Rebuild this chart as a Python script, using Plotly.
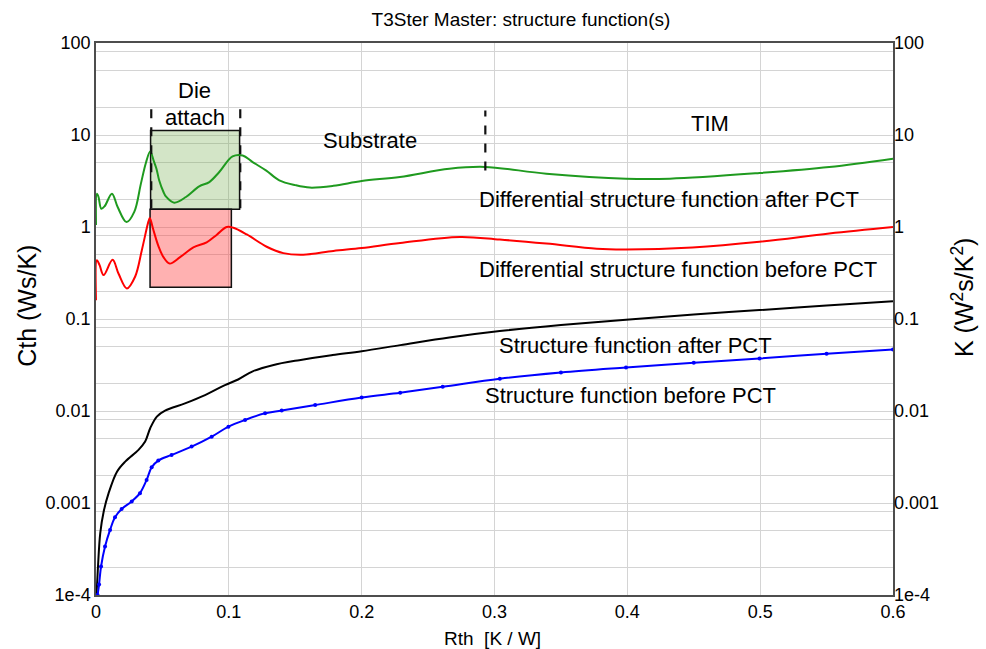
import plotly.graph_objects as go

# ---------------- data ----------------
green_x = [0.0, 0.0007, 0.0019, 0.004, 0.0065, 0.012, 0.0163, 0.023, 0.0288, 0.0338, 0.0376,
           0.0408, 0.0435, 0.0455, 0.0476, 0.0508, 0.0526, 0.0589, 0.0677, 0.0777, 0.0853, 0.0928,
           0.1028, 0.1104, 0.1179, 0.1282, 0.138, 0.15, 0.161, 0.1787, 0.2, 0.2288, 0.266, 0.2927,
           0.339, 0.399, 0.432, 0.4995, 0.552, 0.6]
green_y = [1.05, 2.3, 2.12, 1.58, 1.68, 2.3, 1.65, 1.13, 1.46, 2.96, 5.0,
           6.6, 5.2, 4.3, 3.2, 2.4, 2.15, 1.84, 2.12, 2.77, 3.08, 3.96,
           5.86, 6.0, 5.08, 4.1, 3.22, 2.85, 2.68, 2.8, 3.16, 3.5, 4.3, 4.5,
           3.8, 3.35, 3.35, 3.86, 4.48, 5.53]

red_x = [0.0, 0.0007, 0.0027, 0.0057, 0.0125, 0.017, 0.0232, 0.0295, 0.0345, 0.0395, 0.0405,
         0.043, 0.047, 0.0508, 0.0555, 0.0633, 0.0733, 0.0833, 0.0908, 0.0984, 0.1035, 0.1135,
         0.1285, 0.141, 0.156, 0.1787, 0.2, 0.229, 0.274, 0.304, 0.339, 0.377, 0.399, 0.449,
         0.4995, 0.552, 0.6]
red_y = [0.16, 0.435, 0.385, 0.30, 0.44, 0.31, 0.215, 0.29, 0.56, 1.15, 1.25,
         0.95, 0.62, 0.47, 0.40, 0.47, 0.60, 0.68, 0.82, 1.0, 0.98, 0.83,
         0.61, 0.52, 0.50, 0.55, 0.59, 0.67, 0.78, 0.73, 0.66, 0.58, 0.57, 0.60,
         0.69, 0.85, 1.0]

black_x = [0.0003, 0.0008, 0.0015, 0.0032, 0.0058, 0.0095, 0.0158, 0.022, 0.032, 0.037, 0.0408,
           0.0458, 0.052, 0.067, 0.0821, 0.0971, 0.107, 0.118, 0.133, 0.153, 0.178, 0.2, 0.229,
           0.266, 0.304, 0.35, 0.399, 0.45, 0.4995, 0.55, 0.6]
black_y = [1.0e-4, 1.3e-4, 2.04e-4, 4.7e-4, 8.1e-4, 1.28e-3, 2.19e-3, 2.82e-3, 3.78e-3, 4.65e-3, 6.5e-3,
           8.7e-3, 1.01e-2, 1.21e-2, 1.49e-2, 1.91e-2, 2.2e-2, 2.7e-2, 3.15e-2, 3.57e-2, 4.05e-2, 4.47e-2, 5.2e-2,
           6.3e-2, 7.4e-2, 8.6e-2, 9.8e-2, 0.112, 0.125, 0.14, 0.156]

blue_x = [0.0012, 0.0023, 0.0038, 0.0068, 0.0106, 0.0143, 0.0193, 0.0269, 0.0331, 0.0381, 0.0419,
          0.0469, 0.0569, 0.072, 0.0871, 0.0997, 0.1122, 0.1273, 0.1398, 0.165, 0.2, 0.229, 0.261,
          0.304, 0.35, 0.399, 0.45, 0.4995, 0.55, 0.6]
blue_y = [1.0e-4, 1.3e-4, 2.04e-4, 3.37e-4, 5.1e-4, 7.0e-4, 8.6e-4, 1.04e-3, 1.28e-3, 1.78e-3, 2.45e-3,
          2.89e-3, 3.33e-3, 4.1e-3, 5.26e-3, 6.76e-3, 8.0e-3, 9.44e-3, 1.01e-2, 1.16e-2, 1.4e-2, 1.58e-2, 1.83e-2,
          2.24e-2, 2.62e-2, 2.97e-2, 3.35e-2, 3.72e-2, 4.2e-2, 4.66e-2]

x_ticks = [0, 0.1, 0.2, 0.3, 0.4, 0.5, 0.6]
x_ticktext = ["0", "0.1", "0.2", "0.3", "0.4", "0.5", "0.6"]
decades = [1e-4, 1e-3, 1e-2, 1e-1, 1, 10, 100]
decade_text = ["1e-4", "0.001", "0.01", "0.1", "1", "10", "100"]
minor_mult = [2, 5, 8]

# minor grid values: 2, 5, 8 within each decade
minor_vals = [d * m for d in decades[:-1] for m in minor_mult]

FONT = "Liberation Sans, Arial, sans-serif"

fig = go.Figure()
fig.add_trace(go.Scatter(x=green_x, y=green_y, mode="lines", line=dict(color="#1f9a1f", width=2, shape="spline"),
                         showlegend=False))
fig.add_trace(go.Scatter(x=red_x, y=red_y, mode="lines", line=dict(color="#ff0000", width=2, shape="spline"),
                         showlegend=False))
fig.add_trace(go.Scatter(x=black_x, y=black_y, mode="lines", line=dict(color="#000000", width=2, shape="spline"),
                         yaxis="y2", showlegend=False))
fig.add_trace(go.Scatter(x=blue_x, y=blue_y, mode="lines+markers", line=dict(color="#0000ff", width=2, shape="spline"),
                         marker=dict(color="#0000ff", size=4), yaxis="y2", showlegend=False))

axis_line = "#4d4d4d"
grid_col = "#d4d4d4"

fig.update_layout(
    width=986, height=649,
    margin=dict(l=96, r=93, t=43, b=54),
    paper_bgcolor="white", plot_bgcolor="white",
    font=dict(family=FONT, color="black", size=18),
    title=dict(text="T3Ster Master: structure function(s)", x=0.5332, xref="paper", xanchor="center",
               y=1 - 19.7 / 649, yref="container", yanchor="middle", font=dict(size=19, family=FONT)),
    xaxis=dict(range=[0, 0.6], tickvals=x_ticks, ticktext=x_ticktext, showgrid=True, gridcolor=grid_col,
               gridwidth=1, showline=True, linecolor=axis_line, linewidth=1.5, mirror=True, ticks="",
               zeroline=False, tickfont=dict(size=18)),
    yaxis=dict(type="log", range=[-4, 2], tickvals=decades, ticktext=decade_text, showgrid=True,
               gridcolor=grid_col, gridwidth=1, showline=True, linecolor=axis_line, linewidth=1.5,
               mirror=True, ticks="", zeroline=False, tickfont=dict(size=18),
               minor=dict(tickvals=minor_vals, showgrid=True, gridcolor=grid_col, gridwidth=1, ticks="")),
    yaxis2=dict(type="log", range=[-4, 2], overlaying="y", side="right", tickvals=decades, ticktext=decade_text,
                showgrid=False, showline=False, ticks="", zeroline=False, tickfont=dict(size=18)),
)

# shaded regions (die attach) -- shape y values are given in data units on the log axis
fig.add_shape(type="rect", xref="x", yref="y", x0=0.0411, x1=0.1081, y0=1.56, y1=11.2,
              fillcolor="rgba(110,170,70,0.30)", line=dict(color="#111111", width=1.5), layer="between")
fig.add_shape(type="rect", xref="x", yref="y", x0=0.0407, x1=0.1019, y0=0.221, y1=1.56,
              fillcolor="rgba(255,60,60,0.40)", line=dict(color="#111111", width=1.5), layer="between")

# dashed boundary markers
for xv, ya, yb in [(0.0416, 1.60, 23.8), (0.1086, 1.60, 23.8), (0.2931, 4.1, 18.5)]:
    fig.add_shape(type="line", xref="x", yref="y", x0=xv, x1=xv, y0=ya, y1=yb,
                  line=dict(color="#111111", width=2.2, dash="dash"), layer="above")

def ann(text, x, ylog, size=22):
    fig.add_annotation(text=text, x=x, y=ylog, xref="x", yref="y", showarrow=False,
                       xanchor="center", yanchor="middle", font=dict(size=size, family=FONT, color="black"))

ann("Die", 0.0745, 1.48)
ann("attach", 0.0745, 1.19)
ann("Substrate", 0.2063, 0.94)
ann("TIM", 0.4619, 1.125)
ann("Differential structure function after PCT", 0.4314, 0.30)
ann("Differential structure function before PCT", 0.4379, -0.46)
ann("Structure function after PCT", 0.4063, -1.285)
ann("Structure function before PCT", 0.4026, -1.83)

# axis titles
fig.add_annotation(text="Cth (Ws/K)", x=(27.5 - 96) / 797, y=0.523, xref="paper", yref="paper",
                   showarrow=False, textangle=-90, xanchor="center", yanchor="middle",
                   font=dict(size=25, family=FONT))
fig.add_annotation(text="K (W<sup>2</sup>s/K<sup>2</sup>)", x=(963 - 96) / 797, y=0.538, xref="paper", yref="paper",
                   showarrow=False, textangle=-90, xanchor="center", yanchor="middle",
                   font=dict(size=25, family=FONT))
fig.add_annotation(text="Rth\u00a0 [K / W]", x=(492.8 - 96) / 797, y=(595 - 638) / 552, xref="paper", yref="paper",
                   showarrow=False, xanchor="center", yanchor="middle", font=dict(size=19, family=FONT))

fig.write_html("out.html")
